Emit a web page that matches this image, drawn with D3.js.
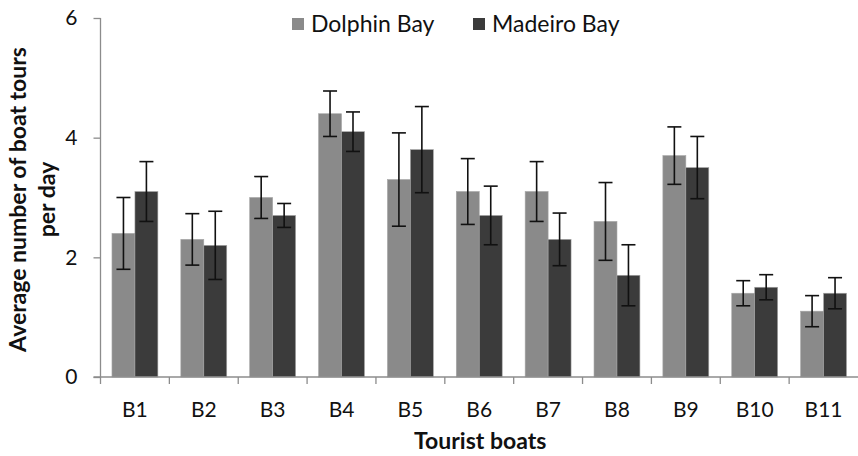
<!DOCTYPE html>
<html>
<head>
<meta charset="utf-8">
<script src="https://cdn.jsdelivr.net/npm/d3@7"></script>
<style>
  html, body { margin: 0; padding: 0; background: #fff; }
  svg { display: block; font-family: Lato, "Open Sans", sans-serif; }
</style>
</head>
<body>
<svg id="chart" width="858" height="456"></svg>
<script>
// Average number of boat tours per day, per tourist boat, for the two bays
const boats = ["B1", "B2", "B3", "B4", "B5", "B6", "B7", "B8", "B9", "B10", "B11"];
const seriesNames = ["Dolphin Bay", "Madeiro Bay"];
const dolphinBay = [2.4, 2.3, 3.0, 4.4, 3.3, 3.1, 3.1, 2.6, 3.7, 1.4, 1.1];
const madeiroBay = [3.1, 2.2, 2.7, 4.1, 3.8, 2.7, 2.3, 1.7, 3.5, 1.5, 1.4];
const dolphinErr = [0.6, 0.43, 0.35, 0.38, 0.78, 0.55, 0.5, 0.65, 0.48, 0.21, 0.26];
const madeiroErr = [0.5, 0.57, 0.2, 0.33, 0.72, 0.49, 0.44, 0.51, 0.52, 0.21, 0.26];
const yTicks = [0, 2, 4, 6];
const seriesColors = ["#8a8a8a", "#3b3b3b"];

const rows = boats.map((b, i) => ({
  boat: b,
  values: [
    { series: seriesNames[0], value: dolphinBay[i], err: dolphinErr[i] },
    { series: seriesNames[1], value: madeiroBay[i], err: madeiroErr[i] }
  ]
}));

const svg = d3.select("#chart");
const plotLeft = 100.5, plotRight = 858, plotTop = 18, plotBottom = 377;

const x = d3.scaleBand().domain(boats).range([plotLeft, plotRight]).padding(0);
const xInner = d3.scaleBand().domain(seriesNames)
  .range([x.bandwidth() / 6, x.bandwidth() * 5 / 6]).padding(0);
const y = d3.scaleLinear().domain([0, 6]).range([plotBottom, plotTop]);
const color = d3.scaleOrdinal().domain(seriesNames).range(seriesColors);

// bars
const groups = svg.append("g").selectAll("g").data(rows).join("g")
  .attr("transform", d => `translate(${x(d.boat)},0)`);

groups.selectAll("rect").data(d => d.values).join("rect")
  .attr("x", d => xInner(d.series))
  .attr("y", d => y(d.value))
  .attr("width", xInner.bandwidth())
  .attr("height", d => y(0) - y(d.value))
  .attr("fill", d => color(d.series))
  .attr("stroke", "#a6a6a6")
  .attr("stroke-width", 0.6);

// error bars
const capHalf = 7;
const cx = d => xInner(d.series) + xInner.bandwidth() / 2;
const eb = groups.selectAll("g.err").data(d => d.values).join("g")
  .attr("class", "err")
  .attr("stroke", "#111")
  .attr("stroke-width", 1.6)
  .attr("fill", "none");
eb.append("line")
  .attr("x1", cx).attr("x2", cx)
  .attr("y1", d => y(d.value + d.err))
  .attr("y2", d => y(d.value - d.err));
eb.append("line")
  .attr("x1", d => cx(d) - capHalf).attr("x2", d => cx(d) + capHalf)
  .attr("y1", d => y(d.value + d.err)).attr("y2", d => y(d.value + d.err));
eb.append("line")
  .attr("x1", d => cx(d) - capHalf).attr("x2", d => cx(d) + capHalf)
  .attr("y1", d => y(d.value - d.err)).attr("y2", d => y(d.value - d.err));

// y axis
const yAxis = svg.append("g")
  .attr("transform", `translate(${plotLeft},0)`)
  .call(d3.axisLeft(y).tickValues(yTicks).tickSize(7).tickPadding(16).tickFormat(d3.format("d")));
yAxis.select(".domain").attr("stroke", "#8c8c8c").attr("stroke-width", 1.3)
  .attr("d", `M0,${plotTop}V${plotBottom}`);
yAxis.selectAll(".tick line").attr("stroke", "#8c8c8c").attr("stroke-width", 1.3);
yAxis.selectAll(".tick text").attr("font-size", 21).attr("fill", "#111")
  .attr("font-family", "Lato, sans-serif");

// x axis: ticks sit on the category boundaries
const xAxis = svg.append("g").attr("transform", `translate(0,${plotBottom})`);
xAxis.append("line").attr("x1", plotLeft - 7).attr("x2", plotRight)
  .attr("stroke", "#8c8c8c").attr("stroke-width", 1.3);
xAxis.selectAll("line.tick").data(boats).join("line")
  .attr("class", "tick")
  .attr("x1", d => x(d)).attr("x2", d => x(d))
  .attr("y1", 0).attr("y2", 7)
  .attr("stroke", "#8c8c8c").attr("stroke-width", 1.3);
xAxis.selectAll("text").data(boats).join("text")
  .attr("x", d => x(d) + x.bandwidth() / 2)
  .attr("y", 40)
  .attr("text-anchor", "middle")
  .attr("font-size", 21)
  .attr("fill", "#111")
  .text(d => d);

// axis titles
svg.append("text")
  .attr("x", (plotLeft + plotRight) / 2 + 1).attr("y", 449)
  .attr("text-anchor", "middle")
  .attr("font-size", 23).attr("font-weight", "bold").attr("fill", "#111")
  .text("Tourist boats");

const yTitle = svg.append("text")
  .attr("transform", `translate(0,${(plotTop + plotBottom) / 2 + 2}) rotate(-90)`)
  .attr("text-anchor", "middle")
  .attr("font-size", 23).attr("font-weight", "bold").attr("fill", "#111");
yTitle.append("tspan").attr("x", 0).attr("y", 26).text("Average number of boat tours");
yTitle.append("tspan").attr("x", 0).attr("y", 55).text("per day");

// legend
const legendItems = [
  { name: seriesNames[0], sx: 292, tx: 311 },
  { name: seriesNames[1], sx: 473, tx: 492 }
];
const legend = svg.append("g").selectAll("g").data(legendItems).join("g");
legend.append("rect")
  .attr("x", d => d.sx).attr("y", 18).attr("width", 12).attr("height", 12)
  .attr("fill", d => color(d.name));
legend.append("text")
  .attr("x", d => d.tx).attr("y", 32)
  .attr("font-size", 23).attr("fill", "#111")
  .text(d => d.name);
</script>
</body>
</html>
